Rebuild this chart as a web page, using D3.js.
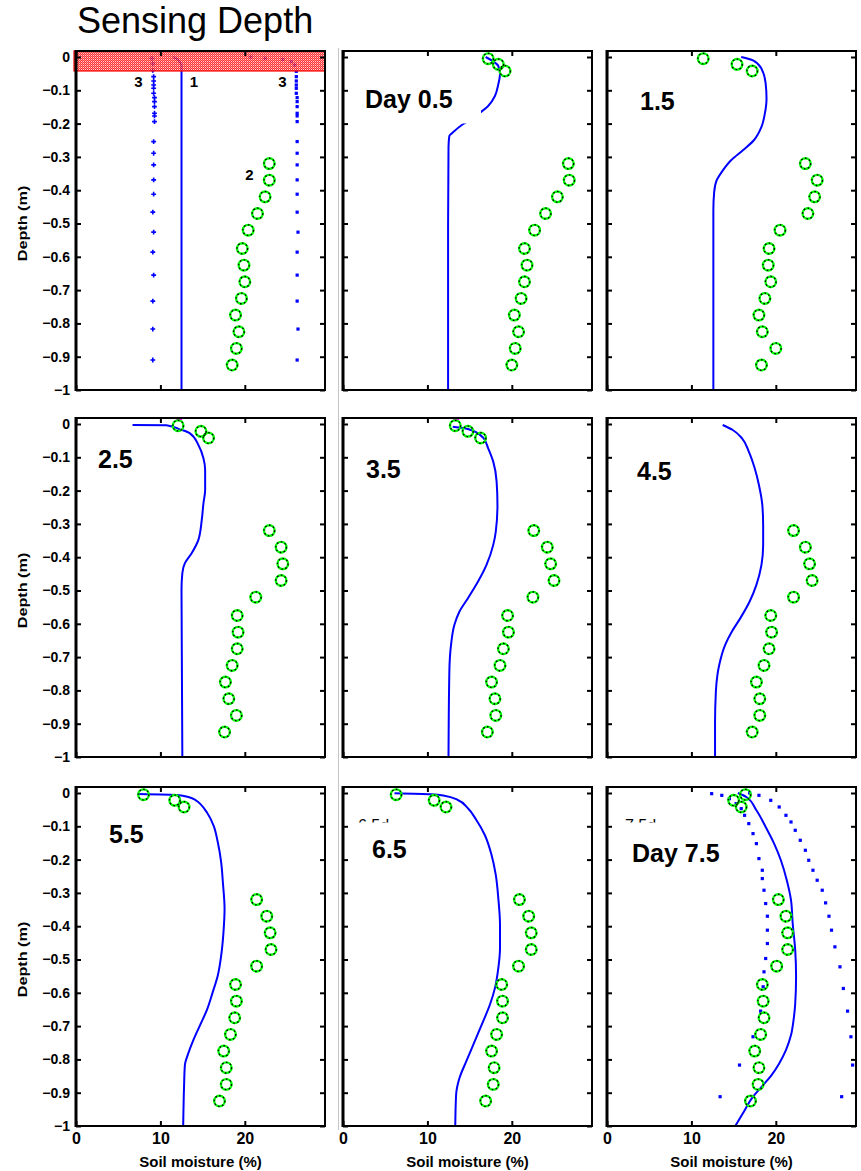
<!DOCTYPE html>
<html>
<head>
<meta charset="utf-8">
<script src="https://cdn.jsdelivr.net/npm/d3@7"></script>
<style>
  html, body { margin: 0; padding: 0; background: #fff; }
  svg { display: block; font-family: "Liberation Sans", Arial, Helvetica, sans-serif; }
</style>
</head>
<body>
<svg id="chart" width="861" height="1171"></svg>
<script>
// ---------------- data ----------------
// observation depths (m) shared by every profile
const obsDepth = [-0.005, -0.022, -0.042, -0.32, -0.37, -0.42, -0.47, -0.52, -0.575,
                  -0.625, -0.675, -0.725, -0.775, -0.825, -0.875, -0.925];

// observed soil moisture (%), null where no sample
const obsSensing = [null, null, null, 22.9, 22.9, 22.4, 21.5, 20.4, 19.7, 19.9, 20.0, 19.6, 18.9, 19.3, 19.0, 18.5];
const obsDay05 = [17.2, 18.4, 19.2, 26.7, 26.8, 25.4, 24.0, 22.7, 21.5, 21.8, 21.5, 21.1, 20.3, 20.8, 20.4, 20.0];
const obsDay15 = [11.4, 15.4, 17.2, 23.5, 24.9, 24.6, 23.8, 20.5, 19.2, 19.1, 19.4, 18.7, 18.0, 18.4, 20.0, 18.3];
const obsDay25 = [12.1, 14.8, 15.7, 22.9, 24.3, 24.5, 24.3, 21.3, 19.1, 19.2, 19.1, 18.5, 17.7, 18.1, 19.0, 17.6];
const obsDay35 = [13.3, 14.8, 16.3, 22.6, 24.2, 24.6, 25.0, 22.5, 19.5, 19.6, 19.0, 18.6, 17.6, 18.0, 18.1, 17.1];
const obsDay45 = [null, null, null, 22.1, 23.5, 24.0, 24.3, 22.1, 19.4, 19.5, 19.2, 18.6, 17.7, 18.1, 18.1, 17.2];
const obsDay55 = [8.0, 11.7, 12.8, 21.4, 22.6, 23.0, 23.1, 21.4, 18.9, 19.0, 18.8, 18.3, 17.5, 17.8, 17.8, 17.0];
const obsDay65 = [6.3, 10.8, 12.2, 20.9, 22.0, 22.3, 22.3, 20.8, 18.8, 18.9, 18.9, 18.2, 17.6, 17.9, 17.8, 16.9];
const obsDay75 = [16.4, 15.0, 15.9, 20.3, 21.2, 21.4, 21.4, 20.1, 18.4, 18.5, 18.6, 18.2, 17.5, 18.0, 17.9, 17.0];

// sensing-depth panel: initial profile (1) and the dry / wet bounds (3)
const initDepth = [0, -0.008, -0.028, -0.5, -1.0];
const initMoist = [11.5, 12.1, 12.5, 12.5, 12.5];
const dryDepth = [-0.004, -0.02, -0.04, -0.059, -0.072, -0.084, -0.094, -0.109, -0.122, -0.134, -0.149, -0.169, -0.177,
                  -0.194, -0.254, -0.289, -0.324, -0.369, -0.412, -0.466, -0.526, -0.586, -0.655, -0.733, -0.817, -0.910];
const dryMoist = [9.0, 9.1, 9.1, 9.2, 9.2, 9.2, 9.2, 9.2, 9.3, 9.3, 9.3, 9.3, 9.3,
                  9.3, 9.2, 9.2, 9.2, 9.2, 9.2, 9.1, 9.2, 9.1, 9.2, 9.1, 9.1, 9.1];
const wetDepth = [0, -0.004, -0.007, -0.014, -0.024, -0.043, -0.059, -0.072, -0.084, -0.094, -0.109, -0.122, -0.134, -0.149,
                  -0.169, -0.177, -0.194, -0.254, -0.289, -0.324, -0.369, -0.412, -0.466, -0.526, -0.586, -0.655, -0.733, -0.817, -0.910];
const wetMoist = [20.7, 22.4, 24.5, 25.5, 25.9, 26.1, 26.1, 26.1, 26.1, 26.1, 26.1, 26.2, 26.2, 26.2,
                  26.2, 26.2, 26.2, 26.2, 26.2, 26.2, 26.2, 26.2, 26.2, 26.3, 26.2, 26.2, 26.2, 26.3, 26.2];
const sensingDepthLimit = -0.042;

// simulated profiles
const simDepth05 = [0, -0.027, -0.05, -0.082, -0.117, -0.147, -0.164, -0.185, -0.202, -0.227, -0.237, -0.27, -0.5, -1.0];
const simMoist05 = [16.9, 18.4, 18.6, 18.4, 18.0, 17.2, 16.4, 15.3, 14.2, 13.0, 12.6, 12.5, 12.45, 12.45];
const simDepth15 = [0, -0.01, -0.035, -0.08, -0.125, -0.17, -0.21, -0.25, -0.28, -0.31, -0.345, -0.37, -0.405, -0.46, -1.0];
const simMoist15 = [15.9, 17.3, 18.3, 18.8, 18.9, 18.7, 18.3, 17.4, 16.1, 14.7, 13.6, 13.0, 12.7, 12.6, 12.6];
const simDepth25 = [-0.003, -0.004, -0.016, -0.028, -0.063, -0.103, -0.138, -0.198, -0.238, -0.288, -0.348, -0.388, -0.418, -0.448, -0.498, -1.0];
const simMoist25 = [6.7, 10.7, 12.3, 13.5, 14.5, 15.1, 15.3, 15.3, 15.1, 14.9, 14.5, 13.7, 12.9, 12.6, 12.5, 12.6];
const simDepth35 = [-0.008, -0.015, -0.041, -0.073, -0.113, -0.173, -0.243, -0.323, -0.363, -0.423, -0.473, -0.523, -0.563, -0.603, -0.663, -0.743, -1.0];
const simMoist35 = [13.0, 14.8, 16.6, 17.2, 17.8, 18.2, 18.3, 18.1, 17.8, 17.0, 16.0, 14.8, 13.8, 13.2, 12.8, 12.6, 12.5];
const simDepth45 = [-0.003, -0.018, -0.043, -0.083, -0.133, -0.183, -0.243, -0.303, -0.363, -0.423, -0.483, -0.533, -0.583, -0.623, -0.663, -0.723, -0.803, -0.9, -1.0];
const simMoist45 = [13.7, 14.9, 16.0, 16.8, 17.5, 18.0, 18.4, 18.5, 18.5, 18.3, 17.7, 16.9, 15.8, 14.8, 14.0, 13.3, 12.9, 12.8, 12.8];
const simDepth55 = [-0.003, -0.006, -0.013, -0.022, -0.035, -0.058, -0.098, -0.148, -0.208, -0.268, -0.348, -0.408, -0.488, -0.548, -0.598,
                    -0.652, -0.697, -0.742, -0.782, -0.817, -0.882, -1.0];
const simMoist55 = [7.4, 12.0, 13.4, 14.2, 14.8, 15.5, 16.3, 16.8, 17.2, 17.4, 17.6, 17.5, 17.2, 16.8, 16.2,
                    15.5, 14.7, 13.9, 13.3, 12.9, 12.8, 12.7];
const simDepth65 = [-0.001, -0.004, -0.008, -0.021, -0.046, -0.081, -0.126, -0.186, -0.246, -0.316, -0.396, -0.466, -0.526, -0.586, -0.636,
                    -0.686, -0.746, -0.806, -0.856, -0.906, -1.0];
const simMoist65 = [6.1, 10.4, 12.0, 13.6, 14.8, 15.8, 16.8, 17.6, 18.1, 18.4, 18.6, 18.6, 18.4, 18.0, 17.4,
                    16.6, 15.6, 14.6, 13.8, 13.4, 13.3];
const simDepth75 = [0, -0.012, -0.052, -0.102, -0.152, -0.202, -0.262, -0.322, -0.392, -0.472, -0.552, -0.632, -0.682, -0.727,
                    -0.772, -0.812, -0.847, -0.877, -0.912, -0.962, -1.0];
const simMoist75 = [15.5, 16.5, 17.7, 18.8, 19.8, 20.6, 21.3, 21.8, 22.0, 22.3, 22.4, 22.3, 22.1, 21.8,
                    21.2, 20.4, 19.5, 18.5, 17.3, 16.1, 15.2];
// day 7.5 lower / upper simulated bounds
const lowDepth75 = [-0.002, -0.007, -0.017, -0.032, -0.047, -0.067, -0.092, -0.122, -0.152, -0.197, -0.232, -0.257, -0.292, -0.332,
                    -0.37, -0.412, -0.452, -0.497, -0.537, -0.582, -0.655, -0.732, -0.817, -0.912];
const lowMoist75 = [12.4, 13.6, 14.5, 15.3, 15.9, 16.3, 16.8, 17.3, 17.7, 18.0, 18.4, 18.4, 18.6, 18.8,
                    19.0, 19.0, 19.0, 18.8, 18.6, 18.5, 18.2, 17.3, 15.7, 13.4];
const highDepth75 = [0, -0.007, -0.022, -0.042, -0.067, -0.087, -0.112, -0.142, -0.172, -0.202, -0.232, -0.262, -0.292, -0.33,
                     -0.37, -0.412, -0.462, -0.522, -0.587, -0.655, -0.732, -0.817, -0.912];
const highMoist75 = [16.9, 18.0, 19.4, 20.4, 21.2, 21.8, 22.3, 22.9, 23.5, 23.9, 24.4, 24.9, 25.5, 25.9,
                     26.3, 26.6, 27.0, 27.6, 28.0, 28.5, 28.9, 29.1, 27.8];

// surface readings shown at the top edge (days 2.5 and 3.5)
const surfaceTick25 = [12.2];
const surfaceTick35 = [13.4];

// axis ticks
const depthTicks = [0, -0.1, -0.2, -0.3, -0.4, -0.5, -0.6, -0.7, -0.8, -0.9, -1];
const moistTicks = [0, 10, 20];
const xDomain = [0, 29.5];
const yDomain = [-1, 0.018];

// ---------------- layout ----------------
const colLeft = [76, 343, 607];
const rowZero = [57, 424, 793];
const panelW = 249;
const pxPerM = 333;

const zip = (xs, ds) => xs.map((v, i) => [v, ds[i]]).filter(d => d[0] !== null);

const panels = [
  { row: 0, col: 0, obs: obsSensing, sim: [initMoist, initDepth],
    dots: [{ m: dryMoist, d: dryDepth, shape: "cross" }, { m: wetMoist, d: wetDepth, shape: "square" }],
    band: sensingDepthLimit,
    notes: [{ t: "3", x: 138.5, y: 87 }, { t: "1", x: 194, y: 87 }, { t: "3", x: 282.5, y: 87 }, { t: "2", x: 249.5, y: 179.5 }] },
  { row: 0, col: 1, obs: obsDay05, sim: [simMoist05, simDepth05],
    label: { t: "Day 0.5", x: 365, y: 108, box: [358, 84, 481, 123.5] } },
  { row: 0, col: 2, obs: obsDay15, sim: [simMoist15, simDepth15],
    label: { t: "1.5", x: 640, y: 110 } },
  { row: 1, col: 0, obs: obsDay25, sim: [simMoist25, simDepth25], top: surfaceTick25,
    label: { t: "2.5", x: 98, y: 468 } },
  { row: 1, col: 1, obs: obsDay35, sim: [simMoist35, simDepth35], top: surfaceTick35,
    label: { t: "3.5", x: 366, y: 478 } },
  { row: 1, col: 2, obs: obsDay45, sim: [simMoist45, simDepth45],
    label: { t: "4.5", x: 637, y: 480 } },
  { row: 2, col: 0, obs: obsDay55, sim: [simMoist55, simDepth55],
    label: { t: "5.5", x: 109, y: 843 } },
  { row: 2, col: 1, obs: obsDay65, sim: [simMoist65, simDepth65],
    stub: { t: "6.5d", x: 358, y: 831 },
    label: { t: "6.5", x: 372, y: 858, box: [352, 822.5, 420, 866] } },
  { row: 2, col: 2, obs: obsDay75, sim: [simMoist75, simDepth75],
    dots: [{ m: lowMoist75, d: lowDepth75, shape: "square" }, { m: highMoist75, d: highDepth75, shape: "square" }],
    stub: { t: "7.5d", x: 625, y: 831 },
    label: { t: "Day 7.5", x: 632, y: 862, box: [620, 822.5, 735, 870] } }
];

// ---------------- drawing ----------------
const svg = d3.select("#chart");
svg.append("rect").attr("width", 861).attr("height", 1171).attr("fill", "#fff");
const defs = svg.append("defs");

const pat = defs.append("pattern").attr("id", "bandFill")
  .attr("width", 2).attr("height", 2).attr("patternUnits", "userSpaceOnUse");
pat.append("rect").attr("width", 2).attr("height", 2).attr("fill", "#ff0000");
pat.append("rect").attr("x", 1).attr("y", 1).attr("width", 1).attr("height", 1).attr("fill", "#ffc4c4");
pat.append("rect").attr("x", 0).attr("y", 0).attr("width", 1).attr("height", 1).attr("fill", "#ff6060");

// title
svg.append("text").attr("x", 77).attr("y", 33)
  .attr("font-size", 36).attr("fill", "#000").text("Sensing Depth");

// thin divider between first and second column
svg.append("line").attr("x1", 338.5).attr("x2", 338.5).attr("y1", 48).attr("y2", 1130)
  .attr("stroke", "#c4c4c4").attr("stroke-width", 1);

const fmtDepth = d => d === 0 ? "0" : "\u2212" + (d === -1 ? "1" : (-d).toFixed(1));

panels.forEach((p, i) => {
  const left = colLeft[p.col];
  const zeroY = rowZero[p.row];
  const x = d3.scaleLinear().domain(xDomain).range([left, left + panelW]);
  const y = d3.scaleLinear().domain(yDomain).range([zeroY + pxPerM, zeroY - yDomain[1] * pxPerM]);
  const [x0, x1] = x.range();
  const [yb, yt] = y.range();

  const g = svg.append("g");
  defs.append("clipPath").attr("id", "clip" + i)
    .append("rect").attr("x", x0).attr("y", yt).attr("width", x1 - x0).attr("height", yb - yt);
  const plot = g.append("g").attr("clip-path", `url(#clip${i})`);

  // simulated profile
  const line = d3.line().x(d => x(d[0])).y(d => y(d[1])).curve(d3.curveMonotoneY);
  plot.append("path").datum(zip(p.sim[0], p.sim[1]))
    .attr("d", line).attr("fill", "none").attr("stroke", "#0000ff").attr("stroke-width", 2);

  // bound profiles drawn as markers
  (p.dots || []).forEach(s => {
    const pts = zip(s.m, s.d);
    if (s.shape === "cross") {
      plot.selectAll(null).data(pts).join("path")
        .attr("transform", d => `translate(${x(d[0])},${y(d[1])})`)
        .attr("d", d3.symbol(d3.symbolCross, 13)).attr("fill", "#0000ff");
    } else {
      plot.selectAll(null).data(pts).join("rect")
        .attr("x", d => x(d[0]) - 1.6).attr("y", d => y(d[1]) - 1.6)
        .attr("width", 3.2).attr("height", 3.2).attr("fill", "#0000ff");
    }
  });

  // surface reading at the top edge
  (p.top || []).forEach(v => {
    plot.append("line").attr("x1", x(v) - 3).attr("x2", x(v) + 3)
      .attr("y1", y(0.014)).attr("y2", y(0.014))
      .attr("stroke", "#ff00ff").attr("stroke-width", 2);
  });

  // observations
  const obs = zip(p.obs, obsDepth);
  plot.selectAll(null).data(obs).join("circle")
    .attr("cx", d => x(d[0])).attr("cy", d => y(d[1])).attr("r", 5.3)
    .attr("fill", "none").attr("stroke", "#00ff00").attr("stroke-width", 2.4);
  plot.selectAll(null).data(obs).join("circle")
    .attr("cx", d => x(d[0])).attr("cy", d => y(d[1])).attr("r", 5.3)
    .attr("fill", "none").attr("stroke", "#000").attr("stroke-width", 1.3)
    .attr("stroke-dasharray", "1.6 2.4");

  // sensing depth band
  if (p.band !== undefined) {
    g.append("rect").attr("x", x0 - 2).attr("y", yt)
      .attr("width", x1 - x0 + 2).attr("height", y(p.band) - yt)
      .attr("fill", "url(#bandFill)").attr("fill-opacity", 0.8)
      .attr("stroke", "#ff0000").attr("stroke-width", 1.2);
  }

  (p.notes || []).forEach(n => {
    g.append("text").attr("x", n.x).attr("y", n.y).attr("text-anchor", "middle")
      .attr("font-size", 15).attr("font-weight", "bold").attr("fill", "#000").text(n.t);
  });

  if (p.stub) {
    g.append("text").attr("x", p.stub.x).attr("y", p.stub.y)
      .attr("font-size", 16).attr("fill", "#000").text(p.stub.t);
  }
  if (p.label) {
    const L = p.label;
    if (L.box) {
      g.append("rect").attr("x", L.box[0]).attr("y", L.box[1])
        .attr("width", L.box[2] - L.box[0]).attr("height", L.box[3] - L.box[1]).attr("fill", "#fff");
    }
    g.append("text").attr("x", L.x).attr("y", L.y)
      .attr("font-size", 25).attr("font-weight", "bold").attr("fill", "#000").text(L.t);
  }

  // axes (inward ticks on all four sides)
  const showY = p.col === 0, showX = p.row === 2;
  const styleAxis = (sel, fs) => {
    sel.select(".domain").remove();
    sel.selectAll(".tick line").attr("stroke", "#000").attr("stroke-width", 2);
    sel.selectAll(".tick text").attr("font-size", fs).attr("font-weight", "bold")
      .attr("fill", "#000").attr("font-family", null);
  };
  g.append("g").attr("transform", `translate(${x0},0)`)
    .call(d3.axisLeft(y).tickValues(depthTicks).tickSize(-5).tickPadding(6)
      .tickFormat(showY ? fmtDepth : () => ""))
    .call(s => styleAxis(s, 14));
  g.append("g").attr("transform", `translate(${x1},0)`)
    .call(d3.axisRight(y).tickValues(depthTicks).tickSize(-5).tickFormat(() => ""))
    .call(s => styleAxis(s, 14));
  g.append("g").attr("transform", `translate(0,${yb})`)
    .call(d3.axisBottom(x).tickValues(moistTicks).tickSize(-5).tickPadding(7)
      .tickFormat(showX ? d3.format("d") : () => ""))
    .call(s => styleAxis(s, 16));
  g.append("g").attr("transform", `translate(0,${yt})`)
    .call(d3.axisTop(x).tickValues(moistTicks).tickSize(-5).tickFormat(() => ""))
    .call(s => styleAxis(s, 16));

  // frame
  g.append("rect").attr("x", x0).attr("y", yt).attr("width", x1 - x0).attr("height", yb - yt)
    .attr("fill", "none").attr("stroke", "#000").attr("stroke-width", 2);
  g.append("line").attr("x1", x0).attr("x2", x0).attr("y1", yt - 1).attr("y2", yb + 1)
    .attr("stroke", "#000").attr("stroke-width", 3);

  if (showY) {
    g.append("text")
      .attr("transform", `translate(23,${zeroY + pxPerM / 2}) rotate(-90) scale(1.35,1)`)
      .attr("text-anchor", "middle").attr("dominant-baseline", "central")
      .attr("font-size", 12).attr("font-weight", "bold").attr("fill", "#000").text("Depth (m)");
  }
  if (showX) {
    g.append("text").attr("x", (x0 + x1) / 2).attr("y", 1167).attr("text-anchor", "middle")
      .attr("font-size", 15).attr("font-weight", "bold").attr("fill", "#000").text("Soil moisture (%)");
  }
});
</script>
</body>
</html>
